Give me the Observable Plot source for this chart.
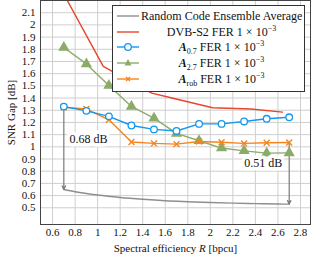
<!DOCTYPE html>
<html><head><meta charset="utf-8">
<script src="https://cdn.jsdelivr.net/npm/d3@7"></script>
<script src="https://cdn.jsdelivr.net/npm/@observablehq/plot@0.6"></script>
<style>
body{margin:0;background:#fff;}
#wrap{position:relative;width:311px;height:257px;font-family:"Liberation Serif",serif;color:#111;}
#legend{position:absolute;left:112px;top:5px;width:193px;height:87px;border:1px solid #333;background:#fff;box-sizing:border-box;font-size:12px;}
.row{position:absolute;left:0;width:100%;height:14px;line-height:14px;}
.row svg{position:absolute;left:4px;top:0;}
.row span{position:absolute;left:28px;right:2px;text-align:center;white-space:nowrap;}
#xlabel{position:absolute;top:241px;left:40px;width:271px;height:14px;line-height:14px;text-align:center;font-size:11px;white-space:nowrap;}
sup,sub{font-size:8px;line-height:0;}
</style></head><body><div id="wrap"></div>
<script>
// Random code ensemble average
const xRCE = [0.7, 0.8, 1.0, 1.2, 1.4, 1.6, 1.8, 2.0, 2.2, 2.4, 2.6, 2.7];
const yRCE = [0.65, 0.632, 0.605, 0.585, 0.57, 0.558, 0.55, 0.543, 0.538, 0.534, 0.531, 0.53];
// DVB-S2 FER 1e-3
const xDVB = [0.66, 1.05, 1.48, 1.66, 2.02, 2.36, 2.64];
const yDVB = [2.32, 1.66, 1.44, 1.40, 1.32, 1.31, 1.285];
// Code rates for the optimized ensembles
const xOpt = [0.7, 0.9, 1.1, 1.3, 1.5, 1.7, 1.9, 2.1, 2.3, 2.5, 2.7];
const yA07 = [1.33, 1.295, 1.25, 1.175, 1.143, 1.13, 1.188, 1.188, 1.208, 1.23, 1.242];
const yA27 = [1.815, 1.68, 1.503, 1.331, 1.235, 1.11, 1.05, 0.99, 0.967, 0.948, 0.95];
const yArob = [1.325, 1.31, 1.222, 1.039, 1.028, 1.022, 1.044, 1.038, 1.028, 1.033, 1.036];
// Axis ticks
const xTicks = [0.6, 0.8, 1.0, 1.2, 1.4, 1.6, 1.8, 2.0, 2.2, 2.4, 2.6, 2.8];
const yTicks = [0.5, 0.6, 0.7, 0.8, 0.9, 1.0, 1.1, 1.2, 1.3, 1.4, 1.5, 1.6, 1.7, 1.8, 1.9, 2.0, 2.1];
// Annotations
const gapLabels = ["0.68 dB", "0.51 dB"];

const C = {rce: "#8e8e8e", dvb: "#e8452c", a07: "#1497ef", a27: "#8cab68", rob: "#f7841b"};

const zip = (xs, ys) => xs.map((x, i) => ({x, y: ys[i]}));
const rce = zip(xRCE, yRCE), dvb = zip(xDVB, yDVB);
const a07 = zip(xOpt, yA07), a27 = zip(xOpt, yA27), rob = zip(xOpt, yArob);

const arrows = [
  {x: xOpt[0], y1: yA07[0], y2: yRCE[0]},
  {x: xOpt[xOpt.length - 1], y1: yArob[yArob.length - 1], y2: yRCE[yRCE.length - 1]}
];
const notes = [
  {x: 0.92, y: 1.066, t: gapLabels[0]},
  {x: 2.47, y: 0.864, t: gapLabels[1]}
];
const fmt = d => String(+d.toFixed(1));

const chart = Plot.plot({
  width: 311, height: 257,
  marginLeft: 40, marginRight: 1, marginTop: 0, marginBottom: 33,
  style: {fontFamily: "'Liberation Serif', serif", fontSize: "11px", color: "#111", background: "#fff"},
  x: {domain: [0.493, 2.889]},
  y: {domain: [0.363, 2.2]},
  marks: [
    Plot.gridX(xTicks, {stroke: "#cfcfcf", strokeOpacity: 1}),
    Plot.gridY(yTicks, {stroke: "#cfcfcf", strokeOpacity: 1}),
    Plot.axisX(xTicks, {tickSize: 0, tickPadding: 4, tickFormat: fmt, label: null, fontSize: 11}),
    Plot.axisY(yTicks, {tickSize: 0, tickPadding: 5, tickFormat: fmt, label: "SNR Gap [dB]", labelAnchor: "center", labelArrow: "none", labelOffset: 33, fontSize: 11}),
    Plot.line(rce, {x: "x", y: "y", stroke: C.rce, strokeWidth: 1.4, curve: "monotone-x"}),
    Plot.line(dvb, {x: "x", y: "y", stroke: C.dvb, strokeWidth: 1.4, clip: "frame"}),
    Plot.arrow(arrows, {x1: "x", x2: "x", y1: "y1", y2: "y2", stroke: "#7a7a7a", strokeWidth: 1.2, headLength: 5, headAngle: 50}),
    Plot.line(a27, {x: "x", y: "y", stroke: C.a27, strokeWidth: 1.4}),
    Plot.dot(a27, {x: "x", y: "y", symbol: "triangle", r: 3.2, fill: C.a27, stroke: C.a27}),
    Plot.line(rob, {x: "x", y: "y", stroke: C.rob, strokeWidth: 1.4}),
    Plot.dot(rob, {x: "x", y: "y", symbol: "times", r: 2.8, stroke: C.rob, strokeWidth: 1.4}),
    Plot.line(a07, {x: "x", y: "y", stroke: C.a07, strokeWidth: 1.4}),
    Plot.dot(a07, {x: "x", y: "y", r: 3.3, fill: "white", stroke: C.a07, strokeWidth: 1.3}),
    Plot.text(notes, {x: "x", y: "y", text: "t", fontSize: 12, fill: "#111", stroke: "white", strokeWidth: 7}),
    Plot.frame({stroke: "#444", strokeWidth: 1})
  ]
});

const wrap = document.getElementById("wrap");
wrap.appendChild(chart);

const xl = document.createElement("div");
xl.id = "xlabel";
xl.innerHTML = "Spectral efficiency <i>R</i> [bpcu]";
wrap.appendChild(xl);

const legendItems = [
  {html: "Random Code Ensemble Average", color: C.rce, sym: null},
  {html: "DVB-S2 FER 1 × 10<sup>−3</sup>", color: C.dvb, sym: null},
  {html: "<b><i>A</i></b><sub>0.7</sub> FER 1 × 10<sup>−3</sup>", color: C.a07, sym: "circle"},
  {html: "<b><i>A</i></b><sub>2.7</sub> FER 1 × 10<sup>−3</sup>", color: C.a27, sym: "triangle"},
  {html: "<b><i>A</i></b><sub>rob</sub> FER 1 × 10<sup>−3</sup>", color: C.rob, sym: "times"}
];
const lg = document.createElement("div");
lg.id = "legend";
legendItems.forEach((it, i) => {
  const r = document.createElement("div");
  r.className = "row";
  r.style.top = (3 + i * 15.7) + "px";
  let m = "";
  if (it.sym === "circle") m = `<circle cx="11" cy="7" r="3.3" fill="white" stroke="${it.color}" stroke-width="1.3"/>`;
  if (it.sym === "triangle") m = `<path d="M11,3 L14.5,9.5 L7.5,9.5Z" fill="${it.color}"/>`;
  if (it.sym === "times") m = `<path d="M9,5 L13,9 M13,5 L9,9" stroke="${it.color}" stroke-width="1.4"/>`;
  r.innerHTML = `<svg width="22" height="14"><line x1="0" x2="22" y1="7" y2="7" stroke="${it.color}" stroke-width="1.4"/>${m}</svg><span>${it.html}</span>`;
  lg.appendChild(r);
});
wrap.appendChild(lg);
</script>
</body></html>
